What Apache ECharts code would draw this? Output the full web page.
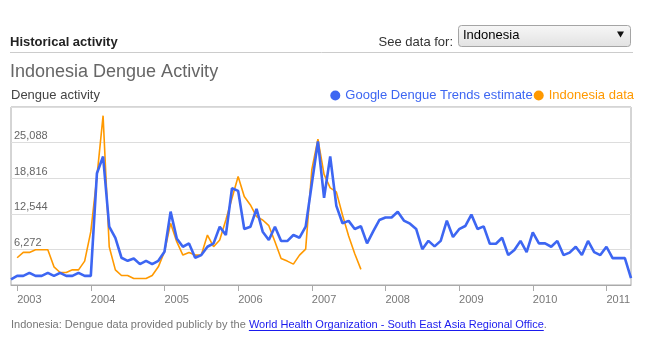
<!DOCTYPE html>
<html><head><meta charset="utf-8">
<script src="https://cdn.jsdelivr.net/npm/echarts@6/dist/echarts.min.js"></script>
<style>html,body{margin:0;padding:0;background:#fff}#c{width:649px;height:356px}</style>
</head><body><div id="c"></div>
<script>
// Months (Dec 2002 .. May 2011)
const months = [
  '2002-12',
  '2003-01','2003-02','2003-03','2003-04','2003-05','2003-06','2003-07','2003-08','2003-09','2003-10','2003-11','2003-12',
  '2004-01','2004-02','2004-03','2004-04','2004-05','2004-06','2004-07','2004-08','2004-09','2004-10','2004-11','2004-12',
  '2005-01','2005-02','2005-03','2005-04','2005-05','2005-06','2005-07','2005-08','2005-09','2005-10','2005-11','2005-12',
  '2006-01','2006-02','2006-03','2006-04','2006-05','2006-06','2006-07','2006-08','2006-09','2006-10','2006-11','2006-12',
  '2007-01','2007-02','2007-03','2007-04','2007-05','2007-06','2007-07','2007-08','2007-09','2007-10','2007-11','2007-12',
  '2008-01','2008-02','2008-03','2008-04','2008-05','2008-06','2008-07','2008-08','2008-09','2008-10','2008-11','2008-12',
  '2009-01','2009-02','2009-03','2009-04','2009-05','2009-06','2009-07','2009-08','2009-09','2009-10','2009-11','2009-12',
  '2010-01','2010-02','2010-03','2010-04','2010-05','2010-06','2010-07','2010-08','2010-09','2010-10','2010-11','2010-12',
  '2011-01','2011-02','2011-03','2011-04','2011-05'
];
// Google Dengue Trends estimate
const googleEstimate = [
  1000,
  1614,1614,2144,1614,1614,2144,1614,2144,1614,1614,2144,1614,
  1614,19700,22640,10300,8300,4800,4260,4680,3680,4260,3680,4260,
  5860,12920,8210,6740,7330,4800,5270,6740,7330,10270,8800,17050,
  16580,9860,10270,13400,9390,7920,10270,7740,7740,8800,8330,10270,
  17800,25290,15370,22640,13950,10870,11300,9870,10350,7330,9450,11450,
  11900,11900,12900,11350,10800,9870,6300,7780,6800,7780,11330,8450,
  9830,10390,12400,9870,10330,7270,7270,8330,5270,6150,7770,5800,
  9280,7330,7330,6740,7770,5270,5700,6740,5270,7770,5800,5270,
  6740,4740,4740,4740,1200
];
// Indonesia data (Jan 2003 .. Sep 2007)
const indonesiaMonths = months.slice(1, 58);
const indonesiaData = [
  4800,5740,5740,6210,6210,6210,3200,2200,2200,2670,2670,4200,
  9390,19100,29830,6740,2670,1670,1670,1140,1140,1140,1670,3200,
  5860,10860,7630,5270,5740,5270,5270,8800,6740,7920,11450,15290,
  19120,15580,14100,12040,11450,10450,7630,4680,4210,3680,5270,6330,
  20300,25700,19500,17100,16400,12330,8650,5500,2760
];
const yearTicks = [2003,2004,2005,2006,2007,2008,2009,2010,2011];
const yInterval = 6272;
const yMax = 31360;

const FF = 'Arial, "Liberation Sans", sans-serif';
const BLUE = '#3d66f2';
const ORANGE = '#ff9900';
const blueName = 'Google Dengue Trends estimate';
const orangeName = 'Indonesia data';

function toX(m) {
  const [y, mo] = m.split('-').map(Number);
  return y + (mo - 1) / 12;
}

const ctx = document.createElement('canvas').getContext('2d');
ctx.font = '11px ' + FF;
const footA = 'Indonesia: Dengue data provided publicly by the ';
const footLink = 'World Health Organization - South East Asia Regional Office';
const wA = ctx.measureText(footA).width;
const wL = ctx.measureText(footLink).width;
const fx = 11, fy = 325;

const chart = echarts.init(document.getElementById('c'), null, {renderer: 'canvas'});
chart.setOption({
  animation: false,
  backgroundColor: '#fff',
  grid: {left: 11, right: 18, top: 107, bottom: 71, show: true, borderColor: '#aaa', borderWidth: 1, containLabel: false},
  legend: {
    data: [
      {name: blueName, textStyle: {color: BLUE}},
      {name: orangeName, textStyle: {color: ORANGE}}
    ],
    right: 15, top: 89, icon: 'circle', itemWidth: 10, itemHeight: 10, itemGap: 1, padding: 0,
    textStyle: {fontSize: 13, fontFamily: FF}
  },
  xAxis: {
    type: 'value', min: 2002 + 11 / 12, max: 2011 + 4 / 12,
    splitLine: {show: false},
    axisLine: {lineStyle: {color: '#aaa'}},
    axisTick: {customValues: yearTicks, length: 6, lineStyle: {color: '#aaa'}},
    axisLabel: {customValues: yearTicks, formatter: v => String(v), align: 'left', margin: 9,
      color: '#777', fontSize: 11, fontFamily: FF}
  },
  yAxis: {
    type: 'value', min: 0, max: yMax, interval: yInterval,
    axisLine: {show: false}, axisTick: {show: false},
    splitLine: {lineStyle: {color: '#ddd'}},
    axisLabel: {inside: true, showMinLabel: false, showMaxLabel: false, verticalAlign: 'bottom', margin: 3,
      padding: [0, 0, 1, 0], color: '#666', fontSize: 11, fontFamily: FF,
      formatter: v => (v === 0 || v === yMax) ? '' : v.toLocaleString('en-US')}
  },
  series: [
    {name: orangeName, type: 'line', showSymbol: false, symbol: 'none',
      data: indonesiaMonths.map((m, i) => [toX(m), indonesiaData[i]]),
      lineStyle: {width: 1.6, color: ORANGE}, itemStyle: {color: ORANGE}, z: 2},
    {name: blueName, type: 'line', showSymbol: false, symbol: 'none',
      data: months.map((m, i) => [toX(m), googleEstimate[i]]),
      lineStyle: {width: 2.6, color: BLUE}, itemStyle: {color: BLUE}, z: 3}
  ],
  graphic: [
    {type: 'text', x: 10, y: 42, style: {text: 'Historical activity', fill: '#222', font: 'bold 13px ' + FF, textAlign: 'left', textVerticalAlign: 'middle', verticalAlign: 'middle'}},
    {type: 'text', x: 453, y: 42, style: {text: 'See data for:', fill: '#333', font: '13px ' + FF, textAlign: 'right', align: 'right', textVerticalAlign: 'middle', verticalAlign: 'middle'}},
    {type: 'rect', shape: {x: 458.5, y: 25.5, width: 172, height: 21, r: 3},
      style: {fill: new echarts.graphic.LinearGradient(0, 0, 0, 1, [{offset: 0, color: '#f7f7f7'}, {offset: 1, color: '#e2e2e2'}]), stroke: '#a5a5a5', lineWidth: 1}},
    {type: 'text', x: 463, y: 35, style: {text: 'Indonesia', fill: '#000', font: '13px ' + FF, textAlign: 'left', textVerticalAlign: 'middle', verticalAlign: 'middle'}},
    {type: 'polygon', shape: {points: [[617, 31.5], [624, 31.5], [620.5, 37.5]]}, style: {fill: '#111'}},
    {type: 'line', shape: {x1: 10, y1: 52.5, x2: 633, y2: 52.5}, style: {stroke: '#ccc', lineWidth: 1}},
    {type: 'text', x: 10, y: 72, style: {text: 'Indonesia Dengue Activity', fill: '#666', font: '18px ' + FF, textAlign: 'left', textVerticalAlign: 'middle', verticalAlign: 'middle'}},
    {type: 'text', x: 11, y: 95.5, style: {text: 'Dengue activity', fill: '#444', font: '13px ' + FF, textAlign: 'left', textVerticalAlign: 'middle', verticalAlign: 'middle'}},
    {type: 'text', x: fx, y: fy, style: {text: footA, fill: '#777', font: '11px ' + FF, textAlign: 'left', textVerticalAlign: 'middle', verticalAlign: 'middle'}},
    {type: 'text', x: fx + wA, y: fy, style: {text: footLink, fill: '#1a1aee', font: '11px ' + FF, textAlign: 'left', textVerticalAlign: 'middle', verticalAlign: 'middle'}},
    {type: 'line', shape: {x1: fx + wA, y1: fy + 5.5, x2: fx + wA + wL, y2: fy + 5.5}, style: {stroke: '#1a1aee', lineWidth: 1}},
    {type: 'text', x: fx + wA + wL, y: fy, style: {text: '.', fill: '#777', font: '11px ' + FF, textAlign: 'left', textVerticalAlign: 'middle', verticalAlign: 'middle'}}
  ]
});
</script>
</body></html>
